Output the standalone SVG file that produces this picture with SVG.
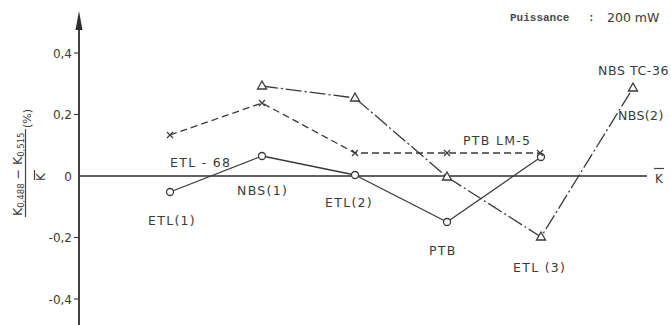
<svg xmlns="http://www.w3.org/2000/svg" width="671" height="325" viewBox="0 0 671 325">
<style>
.ax{stroke:#2e2e2e;stroke-width:1.8;fill:none}
.tk{stroke:#444;stroke-width:1.2}
.lbl{font-family:"DejaVu Sans",sans-serif;font-size:12px;fill:#3a3a3a}
.pl{font-family:"DejaVu Sans",sans-serif;font-size:12.5px;fill:#3a3a3a;letter-spacing:1.3px}
.mono{font-family:"Liberation Mono",monospace;font-size:11px;font-weight:bold;fill:#4a4a4a}
.s{stroke:#3a3a3a;stroke-width:1.3;fill:none;stroke-linejoin:round}
.dash{stroke-dasharray:7 4}
.dd{stroke-dasharray:16 3 2 3}
.mk{fill:#fff;stroke:#3a3a3a;stroke-width:1.3}
.cr{stroke:#3a3a3a;stroke-width:1.2;fill:none}
</style>
<defs>
<circle id="c" r="3.5" class="mk"/>
<polygon id="t" points="0,-5 4.5,3 -4.5,3" class="mk"/>
<path id="x" d="M-3,-3 L3,3 M-3,3 L3,-3" class="cr"/>
</defs>
<rect width="671" height="325" fill="#fff"/>
<g id="axes">
<line class="ax" x1="79" y1="26" x2="79" y2="325"/>
<polygon points="79,11 82.5,30 75.5,30" fill="#2e2e2e"/>
<line class="ax" x1="79" y1="176" x2="647" y2="176" style="stroke-width:1.5"/>
<line class="tk" x1="74" y1="53" x2="79" y2="53"/>
<line class="tk" x1="74" y1="114.5" x2="79" y2="114.5"/>
<line class="tk" x1="74" y1="237.5" x2="79" y2="237.5"/>
<line class="tk" x1="74" y1="299" x2="79" y2="299"/>
<text class="lbl" x="72" y="58" text-anchor="end">0,4</text>
<text class="lbl" x="72" y="119" text-anchor="end">0,2</text>
<text class="lbl" x="72" y="181" text-anchor="end">0</text>
<text class="lbl" x="72" y="242" text-anchor="end">-0,2</text>
<text class="lbl" x="72" y="304" text-anchor="end">-0,4</text>
<text class="lbl" x="655" y="183">K</text>
<line class="tk" x1="654" y1="168.5" x2="664" y2="168.5"/>
</g>
<g id="ylabel">
<text class="lbl" transform="translate(22,216) rotate(-90)" style="font-size:12.5px">K<tspan font-size="8.5" dy="2">0,488</tspan><tspan dy="-2"> − K</tspan><tspan font-size="8.5" dy="2">0,515</tspan></text>
<line class="tk" x1="25.5" y1="129" x2="25.5" y2="217"/>
<text class="lbl" transform="translate(31,128) rotate(-90)" style="font-size:11px">(%)</text>
<text class="lbl" transform="translate(45,181) rotate(-90)">K</text>
<line class="tk" x1="34.5" y1="170" x2="34.5" y2="180"/>
</g>
<g id="connectors">
<polyline class="s" points="170,192 262,156 355,175 447,222 541,157"/>
<polyline class="s dash" points="170,135 262,103 355,153 447,153 540,153"/>
<polyline class="s dd" points="262,86 355,98 447,177 541,237 633,88"/>
</g>
<g id="markers">
<use href="#c" x="170" y="192"/>
<use href="#c" x="262" y="156"/>
<use href="#c" x="355" y="175"/>
<use href="#c" x="447" y="222"/>
<use href="#c" x="541" y="157"/>
<use href="#x" x="170" y="135"/>
<use href="#x" x="262" y="103"/>
<use href="#x" x="355" y="153"/>
<use href="#x" x="447" y="153"/>
<use href="#x" x="540" y="153"/>
<use href="#t" x="262" y="86"/>
<use href="#t" x="355" y="98"/>
<use href="#t" x="447" y="177"/>
<use href="#t" x="541" y="237"/>
<use href="#t" x="633" y="88"/>
</g>
<g id="labels">
<text class="pl" x="170" y="167">ETL - 68</text>
<text class="pl" x="237" y="195">NBS(1)</text>
<text class="pl" x="148" y="225">ETL(1)</text>
<text class="pl" x="325" y="207">ETL(2)</text>
<text class="pl" x="429" y="255">PTB</text>
<text class="pl" x="513" y="272">ETL (3)</text>
<text class="pl" x="463" y="145">PTB LM-5</text>
<text class="pl" x="598" y="75" style="letter-spacing:0.6px">NBS TC-36</text>
<text class="pl" x="618" y="120" style="letter-spacing:0.4px">NBS(2)</text>
</g>
<g id="title">
<text class="mono" x="510" y="21">Puissance</text>
<text class="mono" x="588" y="21">:</text>
<text class="lbl" x="607" y="22" style="font-size:12.5px">200 mW</text>
</g>
</svg>
